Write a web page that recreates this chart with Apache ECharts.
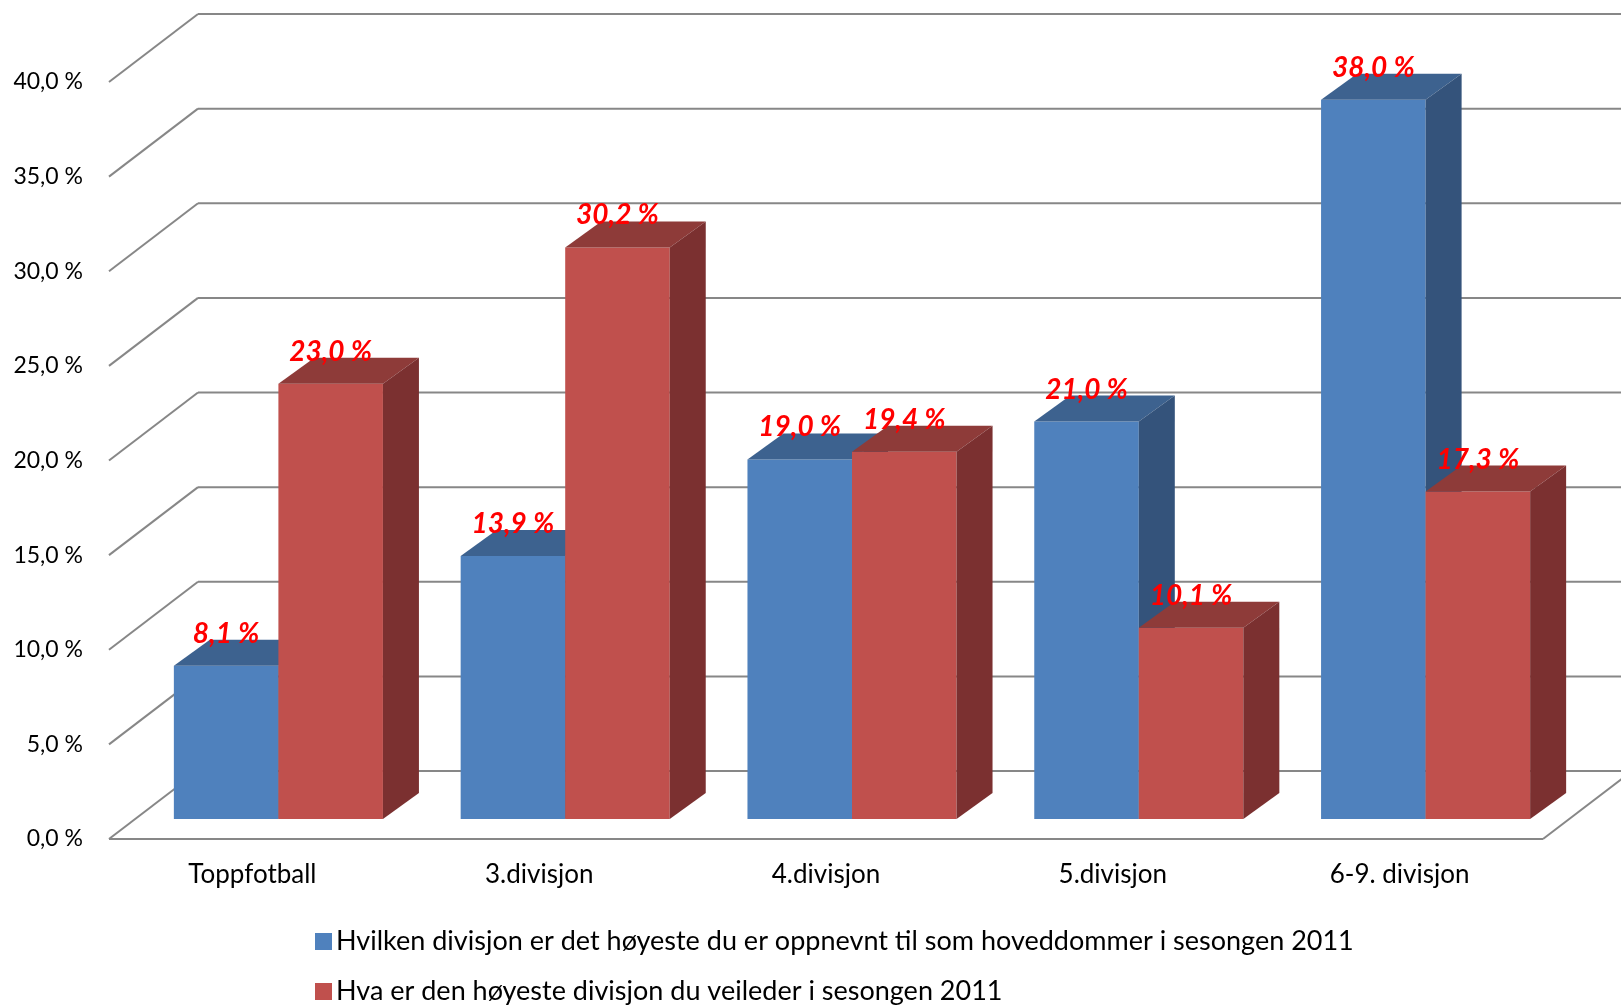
<!DOCTYPE html>
<html>
<head>
<meta charset="utf-8">
<script src="https://cdn.jsdelivr.net/npm/echarts@6/dist/echarts.min.js"></script>
<style>
  html, body { margin: 0; padding: 0; background: #fff; }
  #chart { width: 1621px; height: 1005px; }
</style>
</head>
<body>
<div id="chart"></div>
<script>
var categories = ['Toppfotball', '3.divisjon', '4.divisjon', '5.divisjon', '6-9. divisjon'];
var seriesNames = [
    'Hvilken divisjon er det høyeste du er oppnevnt til som hoveddommer i sesongen 2011',
    'Hva er den høyeste divisjon du veileder i sesongen 2011'
];
var dommerValues = [8.1, 13.9, 19.0, 21.0, 38.0];
var veilederValues = [23.0, 30.2, 19.4, 10.1, 17.3];
var axisTicks = [0, 5, 10, 15, 20, 25, 30, 35, 40];

// 3d look: depth of the floor/walls, where the bars sit, how deep they are
var WALL = [89, -68];
var BAR_OFF = [26, -20];
var BAR_DEPTH = [36, -26];
var BAR_FRAC = 0.3645;

var faces = [
    { front: '#4F81BD', top: '#3D628F', side: '#34537B' },
    { front: '#C0504D', top: '#8E3B39', side: '#7B3030' }
];

function fmt(v) {
    return v.toFixed(1).replace('.', ',') + ' %';
}

function barBox(params, api, s) {
    var idx = api.value(0);
    var base = api.coord([idx, 0]);
    var topY = api.coord([idx, api.value(1)])[1];
    var band = api.size([1, 0])[0];
    var bw = band * BAR_FRAC;
    var gx = base[0] + BAR_OFF[0];
    var left = gx - bw + s * bw;
    return { left: left, right: left + bw, yb: base[1] + BAR_OFF[1], yt: topY + BAR_OFF[1] };
}

function barRenderer(s) {
    return function (params, api) {
        var b = barBox(params, api, s);
        var c = faces[s];
        var dx = BAR_DEPTH[0], dy = BAR_DEPTH[1];
        return {
            type: 'group',
            children: [
                { type: 'rect', shape: { x: b.left, y: b.yt, width: b.right - b.left, height: b.yb - b.yt },
                  style: { fill: c.front } },
                { type: 'polygon', shape: { points: [[b.left, b.yt], [b.right, b.yt], [b.right + dx, b.yt + dy], [b.left + dx, b.yt + dy]] },
                  style: { fill: c.top } },
                { type: 'polygon', shape: { points: [[b.right, b.yt], [b.right + dx, b.yt + dy], [b.right + dx, b.yb + dy], [b.right, b.yb]] },
                  style: { fill: c.side } }
            ]
        };
    };
}

function labelRenderer(s) {
    return function (params, api) {
        var b = barBox(params, api, s);
        return {
            type: 'text',
            style: {
                x: (b.left + b.right) / 2,
                y: b.yt - 32,
                text: fmt(api.value(1)),
                fill: '#FF0000',
                font: 'italic bold 28px Lato',
                align: 'center',
                verticalAlign: 'middle'
            }
        };
    };
}

function frameRenderer(params, api) {
    var cs = params.coordSys;
    var v = api.value(1);
    var y = api.coord([0, v])[1];
    var x0 = cs.x, x1 = cs.x + cs.width;
    var ls = { stroke: '#878787', lineWidth: 2 };
    var kids = [
        { type: 'line', shape: { x1: x0, y1: y, x2: x0 + WALL[0], y2: y + WALL[1] }, style: ls },
        { type: 'line', shape: { x1: x0 + WALL[0], y1: y + WALL[1], x2: x1 + WALL[0], y2: y + WALL[1] }, style: ls }
    ];
    if (v === 0) {
        kids.push({ type: 'line', shape: { x1: x0, y1: y, x2: x1, y2: y }, style: ls });
        kids.push({ type: 'line', shape: { x1: x1, y1: y, x2: x1 + WALL[0], y2: y + WALL[1] }, style: ls });
    }
    return { type: 'group', children: kids };
}

function pairs(arr) {
    return arr.map(function (v, i) { return [i, v]; });
}

function legendFor(name, top) {
    return {
        left: 310,
        top: top,
        itemWidth: 17,
        itemHeight: 17,
        itemGap: 10,
        icon: 'rect',
        data: [name],
        textStyle: { fontFamily: 'Lato', fontSize: 27, color: '#000', padding: [0, 0, 0, -1] }
    };
}

var chart = echarts.init(document.getElementById('chart'));
chart.setOption({
    animation: false,
    backgroundColor: '#fff',
    grid: { left: 109, right: 78, top: 82, bottom: 166 },
    legend: [legendFor(seriesNames[0], 923), legendFor(seriesNames[1], 973)],
    xAxis: {
        type: 'category',
        data: categories,
        axisLine: { show: false },
        axisTick: { show: false },
        splitLine: { show: false },
        axisLabel: { fontFamily: 'Lato', fontSize: 26, color: '#000', margin: 23 }
    },
    yAxis: {
        type: 'value',
        min: 0,
        max: 40,
        interval: 5,
        axisLine: { show: false },
        axisTick: { show: false },
        splitLine: { show: false },
        axisLabel: { fontFamily: 'Lato', fontSize: 23, color: '#000', margin: 26, formatter: fmt }
    },
    series: [
        {
            type: 'custom', name: 'frame', silent: true, clip: false,
            renderItem: frameRenderer,
            data: axisTicks.map(function (v) { return [0, v]; }),
            z: 1
        },
        {
            type: 'custom', name: seriesNames[0], clip: false,
            itemStyle: { color: faces[0].front },
            renderItem: barRenderer(0),
            data: pairs(dommerValues), z: 2
        },
        {
            type: 'custom', name: seriesNames[1], clip: false,
            itemStyle: { color: faces[1].front },
            renderItem: barRenderer(1),
            data: pairs(veilederValues), z: 3
        },
        {
            type: 'custom', name: 'labels0', clip: false, silent: true,
            renderItem: labelRenderer(0),
            data: pairs(dommerValues), z: 4
        },
        {
            type: 'custom', name: 'labels1', clip: false, silent: true,
            renderItem: labelRenderer(1),
            data: pairs(veilederValues), z: 4
        }
    ]
});
</script>
</body>
</html>
